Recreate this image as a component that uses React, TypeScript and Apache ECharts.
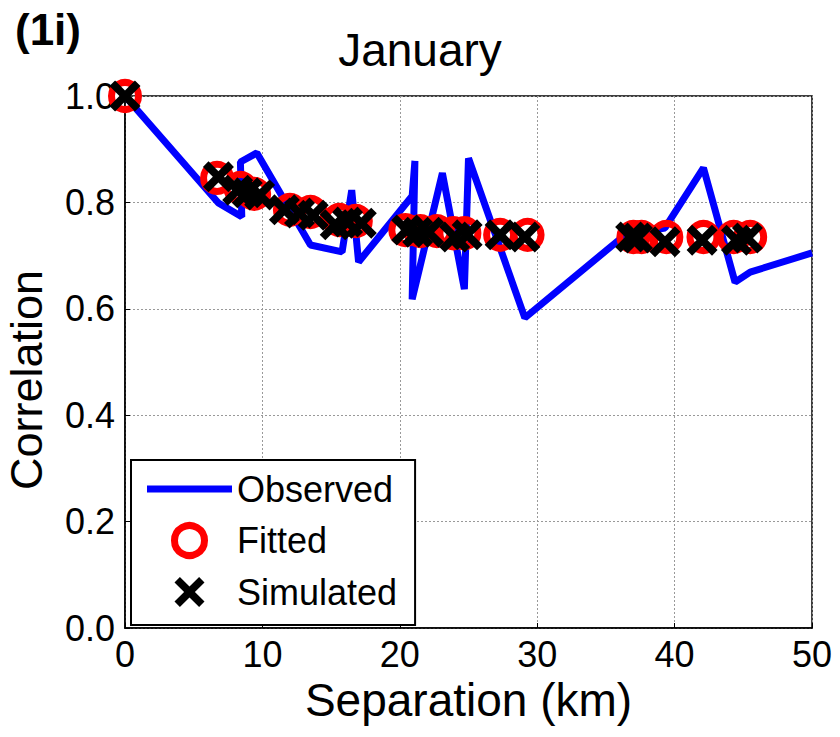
import React, { useEffect, useRef } from "react";
import * as echarts from "echarts";

// Observed correlation (separation km, correlation)
const observedX = [0, 6.8, 8.5, 8.4, 9.6, 13.5, 15.8, 16.5, 17.0, 20.9, 21.1, 20.9, 23.1, 24.7, 25.0, 29.1, 36.4, 39.3, 42.1, 44.4, 45.5, 50];
const observedY = [1.0, 0.799, 0.773, 0.876, 0.893, 0.72, 0.707, 0.823, 0.688, 0.812, 0.878, 0.618, 0.855, 0.637, 0.883, 0.583, 0.739, 0.752, 0.865, 0.65, 0.669, 0.705];

// Fitted
const fittedX = [0, 6.7, 8.4, 9.4, 12.0, 13.5, 15.6, 16.8, 20.4, 21.5, 22.7, 23.9, 24.7, 27.3, 29.3, 37.0, 37.6, 39.4, 42.1, 44.3, 45.5];
const fittedY = [1.0, 0.846, 0.827, 0.816, 0.786, 0.782, 0.767, 0.765, 0.748, 0.746, 0.746, 0.742, 0.742, 0.739, 0.739, 0.735, 0.735, 0.735, 0.735, 0.735, 0.735];

// Simulated
const simX = [0, 6.8, 8.2, 8.9, 9.8, 11.6, 12.7, 13.7, 15.3, 16.2, 17.2, 20.5, 21.3, 22.1, 24.0, 24.9, 27.3, 29.1, 36.8, 37.3, 39.3, 42.0, 44.5, 45.3];
const simY = [1.0, 0.848, 0.823, 0.818, 0.814, 0.786, 0.78, 0.776, 0.758, 0.763, 0.761, 0.748, 0.744, 0.744, 0.735, 0.739, 0.739, 0.735, 0.735, 0.733, 0.726, 0.729, 0.729, 0.733];

const xTicks = [0, 10, 20, 30, 40, 50];
const yTicks = [0, 0.2, 0.4, 0.6, 0.8, 1.0];

const FONT = "'Liberation Sans', Arial, Helvetica, sans-serif";
const CROSS = "path://M0,3.6L3.6,0L10,6.4L16.4,0L20,3.6L13.6,10L20,16.4L16.4,20L10,13.6L3.6,20L0,16.4L6.4,10Z";
const BAR = "path://M0,0H85V7H0Z";

export default function App() {
  const ref = useRef<HTMLDivElement>(null);
  useEffect(() => {
    if (!ref.current) return;
    const chart = echarts.init(ref.current, null, { renderer: "svg" });
    const zip = (xs: number[], ys: number[]) => xs.map((x, i) => [x, ys[i]]);
    chart.setOption({
      animation: false,
      backgroundColor: "#fff",
      textStyle: { fontFamily: FONT },
      title: [
        {
          text: "January",
          left: "center",
          top: 22,
          textStyle: { fontFamily: FONT, fontSize: 46, fontWeight: "normal", color: "#000" },
        },
        {
          text: "(1i)",
          left: 10,
          top: 2,
          textStyle: { fontFamily: FONT, fontSize: 44, fontWeight: "bold", color: "#000" },
        },
      ],
      grid: {
        left: 125,
        right: 28,
        top: 96,
        bottom: 109,
        containLabel: false,
        outerBoundsMode: "none",
        show: true,
        borderColor: "#000",
        borderWidth: 1.5,
        backgroundColor: "transparent",
      },
      legend: {
        orient: "vertical",
        left: 131,
        top: 460,
        padding: [11, 18, 15, 16],
        borderColor: "#000",
        borderWidth: 2,
        backgroundColor: "#fff",
        itemWidth: 85,
        itemHeight: 30,
        itemGap: 15,
        textStyle: { fontFamily: FONT, fontSize: 36, color: "#000" },
        data: [
          { name: "Observed", icon: BAR, itemStyle: { color: "#0000ff", borderWidth: 0 } },
          { name: "Fitted", icon: "circle", itemStyle: { color: "rgba(0,0,0,0)", borderColor: "#ff0000", borderWidth: 7 } },
          { name: "Simulated", icon: CROSS, itemStyle: { color: "#000", borderWidth: 0, opacity: 1 } },
        ],
      },
      xAxis: {
        type: "value",
        min: xTicks[0],
        max: xTicks[xTicks.length - 1],
        interval: 10,
        name: "Separation (km)",
        nameLocation: "middle",
        nameGap: 33,
        nameTextStyle: { fontFamily: FONT, fontSize: 46, color: "#000" },
        axisLine: { show: true, lineStyle: { color: "#000", width: 1.5 } },
        axisTick: { show: true, inside: true, length: 5, lineStyle: { color: "#000" } },
        axisLabel: { fontFamily: FONT, fontSize: 36, color: "#000", margin: 8 },
        splitLine: { show: true, lineStyle: { color: "#999", type: [2, 2], width: 1 } },
      },
      yAxis: {
        type: "value",
        min: yTicks[0],
        max: yTicks[yTicks.length - 1],
        interval: 0.2,
        name: "Correlation",
        nameLocation: "middle",
        nameGap: 76,
        nameTextStyle: { fontFamily: FONT, fontSize: 45, color: "#000", padding: [0, 36, 0, 0] },
        axisLine: { show: true, lineStyle: { color: "#000", width: 1.5 } },
        axisTick: { show: true, inside: true, length: 5, lineStyle: { color: "#000" } },
        axisLabel: {
          fontFamily: FONT,
          fontSize: 36,
          color: "#000",
          margin: 10,
          formatter: (v: number) => v.toFixed(1),
        },
        splitLine: { show: true, lineStyle: { color: "#999", type: [2, 2], width: 1 } },
      },
      series: [
        {
          name: "Observed",
          type: "line",
          data: zip(observedX, observedY),
          symbol: "none",
          lineStyle: { color: "#0000ff", width: 7 },
          itemStyle: { color: "#0000ff" },
          clip: false,
          z: 2,
        },
        {
          name: "Fitted",
          type: "scatter",
          data: zip(fittedX, fittedY),
          symbol: "circle",
          symbolSize: 27,
          itemStyle: { color: "rgba(0,0,0,0)", borderColor: "#ff0000", borderWidth: 7, opacity: 1 },
          clip: false,
          z: 3,
        },
        {
          name: "Simulated",
          type: "scatter",
          data: zip(simX, simY),
          symbol: CROSS,
          symbolSize: 31,
          itemStyle: { color: "#000", opacity: 1 },
          clip: false,
          z: 4,
        },
      ],
    });
    return () => chart.dispose();
  }, []);
  return <div ref={ref} style={{ position: "fixed", left: 0, top: 0, width: 840, height: 737 }} />;
}
